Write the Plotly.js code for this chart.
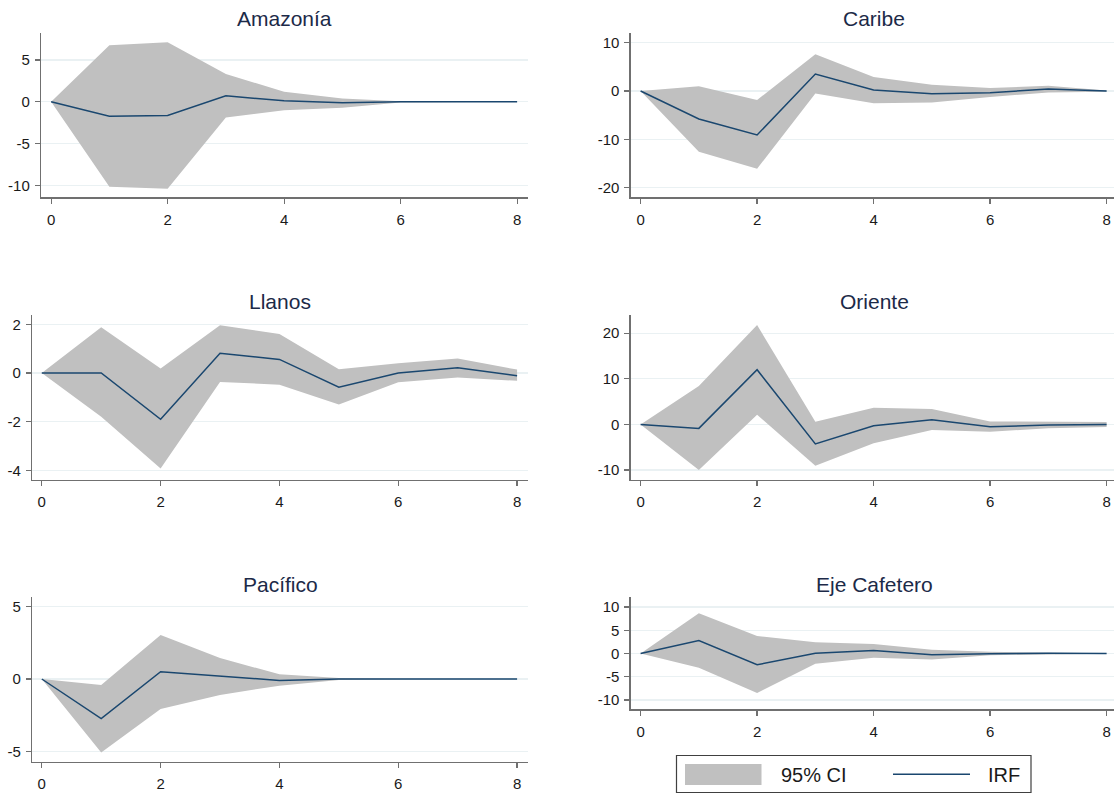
<!DOCTYPE html>
<html>
<head>
<meta charset="utf-8">
<script src="https://cdn.plot.ly/plotly-3.0.1.min.js"></script>
<style>
  html, body { margin: 0; padding: 0; background: #ffffff; overflow: hidden; }
  #chart { width: 1114px; height: 794px; }
</style>
</head>
<body>
<div id="chart"></div>
<script>
// Impulse-response functions by region, with 95% confidence bands
const horizon = [0, 1, 2, 3, 4, 5, 6, 7, 8];
const xTicks = [0, 2, 4, 6, 8];

const regionNames = ["Amazonía", "Caribe", "Llanos", "Oriente", "Pacífico", "Eje Cafetero"];

const amazoniaIrf = [0, -1.72, -1.64, 0.72, 0.12, -0.12, 0, 0, 0];
const amazoniaLo  = [0, -10.16, -10.4, -1.88, -1.0, -0.72, -0.08, -0.01, 0];
const amazoniaHi  = [0, 6.76, 7.12, 3.32, 1.2, 0.4, 0.08, 0.02, 0];

const caribeIrf = [0, -5.8, -9.1, 3.5, 0.2, -0.55, -0.35, 0.4, 0];
const caribeLo  = [0, -12.55, -16.1, -0.5, -2.55, -2.4, -1.25, -0.3, -0.15];
const caribeHi  = [0, 0.97, -1.86, 7.6, 2.9, 1.3, 0.6, 1.1, 0.1];

const llanosIrf = [0, 0, -1.9, 0.81, 0.56, -0.58, 0, 0.22, -0.11];
const llanosLo  = [0, -1.8, -3.93, -0.37, -0.48, -1.29, -0.38, -0.19, -0.32];
const llanosHi  = [0, 1.88, 0.19, 1.96, 1.6, 0.15, 0.4, 0.6, 0.14];

const orienteIrf = [0, -0.88, 12.0, -4.3, -0.3, 1.0, -0.5, -0.15, 0];
const orienteLo  = [0, -10.0, 2.1, -9.1, -4.15, -1.25, -1.6, -0.85, -0.55];
const orienteHi  = [0, 8.4, 21.8, 0.6, 3.65, 3.35, 0.65, 0.65, 0.55];

const pacificoIrf = [0, -2.74, 0.5, 0.2, -0.1, 0, 0, 0, 0];
const pacificoLo  = [0, -5.09, -2.07, -1.1, -0.46, -0.07, -0.02, 0, 0];
const pacificoHi  = [0, -0.41, 3.04, 1.45, 0.32, 0.07, 0.02, 0, 0];

const cafeteroIrf = [0, 2.8, -2.43, 0.07, 0.64, -0.29, -0.07, 0.07, 0];
const cafeteroLo  = [0, -3.07, -8.5, -2.2, -0.93, -1.29, -0.36, -0.14, -0.07];
const cafeteroHi  = [0, 8.64, 3.79, 2.43, 2.07, 0.79, 0.36, 0.2, 0.07];

const amazoniaTicks = [-10, -5, 0, 5];
const caribeTicks   = [-20, -10, 0, 10];
const llanosTicks   = [-4, -2, 0, 2];
const orienteTicks  = [-10, 0, 10, 20];
const pacificoTicks = [-5, 0, 5];
const cafeteroTicks = [-10, -5, 0, 5, 10];

const legendLabels = ["95% CI", "IRF"];

// Styling
const W = 1114, H = 794;
const FONT = "Liberation Sans, Arial, Helvetica, sans-serif";
const BAND_COLOR = "#c0c0c0";
const LINE_COLOR = "#1a476f";
const AXIS_COLOR = "#707070";
const GRID_COLOR = "#eaf1f3";
const TITLE_COLOR = "#1c2a48";
const TICK_COLOR = "#1a1a1a";

// Panel frames in pixels: [left, right], [top, bottom], x range, y range
const panels = [
  { irf: amazoniaIrf, lo: amazoniaLo, hi: amazoniaHi, ticks: amazoniaTicks,
    px: [41.1, 527.9], py: [33.3, 197.3], xr: [-0.172, 8.185], yr: [-11.43, 8.20], titleY: 19, titleX: 284.5 },
  { irf: caribeIrf, lo: caribeLo, hi: caribeHi, ticks: caribeTicks,
    px: [630.7, 1114], py: [33.3, 197.3], xr: [-0.170, 8.127], yr: [-22.0, 11.94], titleY: 19, titleX: 874 },
  { irf: llanosIrf, lo: llanosLo, hi: llanosHi, ticks: llanosTicks,
    px: [32.1, 527.9], py: [315, 480], xr: [-0.163, 8.182], yr: [-4.398, 2.384], titleY: 302, titleX: 280 },
  { irf: orienteIrf, lo: orienteLo, hi: orienteHi, ticks: orienteTicks,
    px: [630.7, 1114], py: [315, 480], xr: [-0.170, 8.127], yr: [-12.2, 24.0], titleY: 302, titleX: 874 },
  { irf: pacificoIrf, lo: pacificoLo, hi: pacificoHi, ticks: pacificoTicks,
    px: [32.1, 527.9], py: [597.3, 762], xr: [-0.163, 8.182], yr: [-5.74, 5.65], titleY: 584, titleX: 280 },
  { irf: cafeteroIrf, lo: cafeteroLo, hi: cafeteroHi, ticks: cafeteroTicks,
    px: [630.7, 1114], py: [597.3, 709.3], xr: [-0.170, 8.127], yr: [-12.0, 12.09], titleY: 584, titleX: 874 }
];

const data = [];
const layout = {
  width: W, height: H,
  margin: { l: 0, r: 0, t: 0, b: 0 },
  paper_bgcolor: "#ffffff",
  plot_bgcolor: "#ffffff",
  showlegend: false,
  hovermode: false,
  font: { family: FONT, size: 15, color: TICK_COLOR },
  annotations: [],
  shapes: []
};

panels.forEach((p, i) => {
  const n = i + 1;
  const xa = n === 1 ? "x" : "x" + n;
  const ya = n === 1 ? "y" : "y" + n;

  data.push({
    x: horizon, y: p.lo, xaxis: xa, yaxis: ya, type: "scatter", mode: "lines",
    line: { width: 0, color: BAND_COLOR }, hoverinfo: "skip"
  });
  data.push({
    x: horizon, y: p.hi, xaxis: xa, yaxis: ya, type: "scatter", mode: "lines",
    fill: "tonexty", fillcolor: BAND_COLOR,
    line: { width: 0, color: BAND_COLOR }, hoverinfo: "skip"
  });
  data.push({
    x: horizon, y: p.irf, xaxis: xa, yaxis: ya, type: "scatter", mode: "lines",
    line: { width: 1.5, color: LINE_COLOR }
  });

  const common = {
    showline: true, linecolor: AXIS_COLOR, linewidth: 1.3,
    ticks: "outside", ticklen: 5, tickwidth: 1.2, tickcolor: AXIS_COLOR,
    zeroline: false, fixedrange: true,
    tickfont: { family: FONT, size: 15, color: TICK_COLOR }
  };

  layout[n === 1 ? "xaxis" : "xaxis" + n] = Object.assign({}, common, {
    anchor: ya,
    domain: [p.px[0] / W, p.px[1] / W],
    range: p.xr,
    tickmode: "array", tickvals: xTicks, ticktext: xTicks.map(String),
    showgrid: false,
    ticklabelstandoff: 3
  });
  layout[n === 1 ? "yaxis" : "yaxis" + n] = Object.assign({}, common, {
    anchor: xa,
    domain: [1 - p.py[1] / H, 1 - p.py[0] / H],
    range: p.yr,
    // plain hyphen for negative labels
    tickmode: "array", tickvals: p.ticks, ticktext: p.ticks.map(String),
    showgrid: true, gridcolor: GRID_COLOR, gridwidth: 1.2,
    ticklabelstandoff: 2
  });

  layout.annotations.push({
    xref: "paper", yref: "paper",
    x: p.titleX / W, y: 1 - p.titleY / H,
    xanchor: "center", yanchor: "middle",
    text: regionNames[i], showarrow: false,
    font: { family: FONT, size: 21, color: TITLE_COLOR }
  });
});

// Legend key below the last panel
const px2x = v => v / W;
const px2y = v => 1 - v / H;
layout.shapes.push(
  { type: "rect", xref: "paper", yref: "paper",
    x0: px2x(676.5), x1: px2x(1031), y0: px2y(792.5), y1: px2y(755.5),
    line: { color: "#404040", width: 1.2 }, fillcolor: "rgba(0,0,0,0)" },
  { type: "rect", xref: "paper", yref: "paper",
    x0: px2x(685), x1: px2x(761.5), y0: px2y(785), y1: px2y(764),
    line: { width: 0 }, fillcolor: BAND_COLOR },
  { type: "line", xref: "paper", yref: "paper",
    x0: px2x(893), x1: px2x(970), y0: px2y(774.3), y1: px2y(774.3),
    line: { color: LINE_COLOR, width: 1.5 } }
);
layout.annotations.push(
  { xref: "paper", yref: "paper", x: px2x(779), y: px2y(774.5),
    xanchor: "left", yanchor: "middle", showarrow: false,
    text: legendLabels[0], font: { family: FONT, size: 20, color: TICK_COLOR } },
  { xref: "paper", yref: "paper", x: px2x(986), y: px2y(774.5),
    xanchor: "left", yanchor: "middle", showarrow: false,
    text: legendLabels[1], font: { family: FONT, size: 20, color: TICK_COLOR } }
);

Plotly.newPlot("chart", data, layout, { displayModeBar: false, staticPlot: true });
</script>
</body>
</html>
